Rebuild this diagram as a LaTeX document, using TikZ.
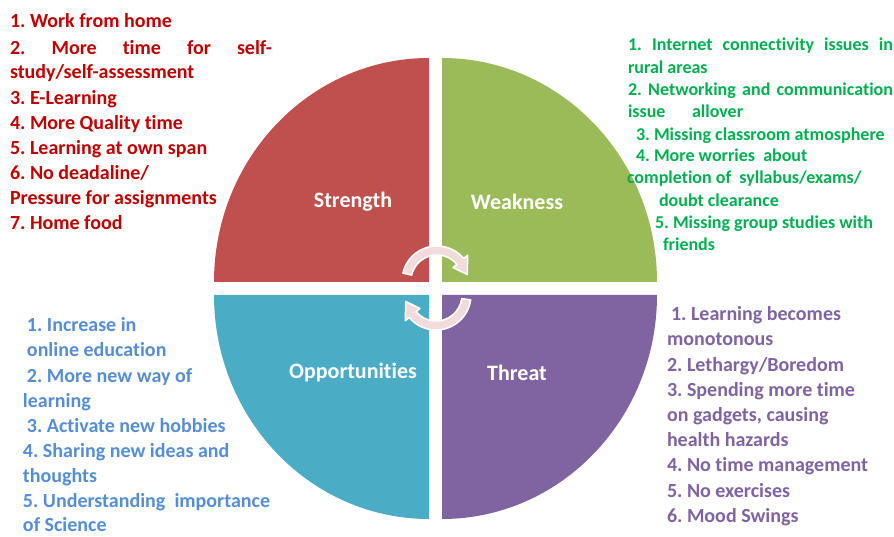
\documentclass[tikz,border=0pt]{standalone}
\usepackage{fontspec}
\setmainfont[RawFeature={-liga,-calt,-dlig,-clig}]{Carlito}
\usetikzlibrary{calc}
\definecolor{qred}{HTML}{C0504D}
\definecolor{qgreen}{HTML}{9BBB59}
\definecolor{qblue}{HTML}{4BACC6}
\definecolor{qpurple}{HTML}{8064A2}
\definecolor{tred}{HTML}{C00000}
\definecolor{tgreen}{HTML}{00B050}
\definecolor{tblue}{HTML}{558ED5}
\definecolor{tpurple}{HTML}{8064A2}
\definecolor{arrowpink}{HTML}{F2DCDB}
\frenchspacing
\begin{document}
\begin{tikzpicture}[x=1pt,y=1pt,
  every node/.style={inner sep=0pt, outer sep=0pt},
  redtxt/.style={anchor=base west, text=tred, font=\fontsize{20}{24}\selectfont\bfseries},
  greentxt/.style={anchor=base west, text=tgreen, font=\fontsize{18}{21}\selectfont\bfseries},
  bluetxt/.style={anchor=base west, text=tblue, font=\fontsize{20}{24}\selectfont\bfseries},
  purpletxt/.style={anchor=base west, text=tpurple, font=\fontsize{20}{24}\selectfont\bfseries},
  qlabel/.style={anchor=center, text=white, font=\fontsize{22}{26}\selectfont\bfseries},
  cyclearrow/.style={fill=arrowpink, draw=white, line width=1.5pt, line join=round}]
\fill[white] (0,0) rectangle (894,536);
\useasboundingbox (0,0) rectangle (894,536);
% quadrants
\fill[qred] (429,254) -- (214,254) arc[start angle=180, end angle=90, x radius=215pt, y radius=224pt] -- cycle;
\fill[qgreen] (442,254) -- (442,478) arc[start angle=90, end angle=0, x radius=215pt, y radius=224pt] -- cycle;
\fill[qblue] (429,241) -- (429,17) arc[start angle=270, end angle=180, x radius=215pt, y radius=224pt] -- cycle;
\fill[qpurple] (442,241) -- (657,241) arc[start angle=0, end angle=-90, x radius=215pt, y radius=224pt] -- cycle;
% cycle arrows
\coordinate (ca) at (437,255);
\coordinate (cb) at (436,241);
\filldraw[cyclearrow] ($(ca)+(167:35pt)$) arc[start angle=167, end angle=40, radius=35pt]
  -- ($(ca)+(40:40pt)$) -- ($(ca)+(12:31pt)$) -- ($(ca)+(40:21pt)$) -- ($(ca)+(40:26pt)$)
  arc[start angle=40, end angle=167, radius=26pt] -- cycle;
\filldraw[cyclearrow] ($(cb)+(-8:35pt)$) arc[start angle=-8, end angle=-140, radius=35pt]
  -- ($(cb)+(-140:40pt)$) -- ($(cb)+(-168:31pt)$) -- ($(cb)+(-140:21pt)$) -- ($(cb)+(-140:26pt)$)
  arc[start angle=-140, end angle=-8, radius=26pt] -- cycle;
% quadrant labels
\node[qlabel] (ls) at (353,334) {Strength};
\node[qlabel] (lw) at (517,334) {Weakness};
\node[qlabel] (lo) at (353,163) {Opportunities};
\node[qlabel] (lt) at (517,163) {Threat};
% strengths
\node[redtxt] (r1) at (10,508) {1. Work from home};
\node[redtxt] (r2) at (10,481.5) {\makebox[262pt][s]{2. More time for self-}};
\node[redtxt] (r3) at (10,457.5) {study/self-assessment};
\node[redtxt] (r4) at (10,431) {3. E-Learning};
\node[redtxt] (r5) at (10,406) {4. More Quality time};
\node[redtxt] (r6) at (10,381) {5. Learning at own span};
\node[redtxt] (r7) at (10,356) {6. No deadaline/};
\node[redtxt] (r8) at (10,331) {Pressure for assignments};
\node[redtxt] (r9) at (10,306) {7. Home food};
% weaknesses
\node[greentxt] (g1) at (628,485.3) {\makebox[265pt][s]{1. Internet connectivity issues in}};
\node[greentxt] (g2) at (628,462) {rural areas};
\node[greentxt] (g3) at (628,440.3) {\makebox[265pt][s]{2. Networking and communication}};
\node[greentxt] (g4) at (628,418) {\makebox[64pt][l]{issue}allover};
\node[greentxt] (g5) at (636,395.3) {3. Missing classroom atmosphere};
\node[greentxt] (g6) at (636,374) {4. More worries\ \ about};
\node[greentxt] (g7) at (627,352) {completion of\ \ syllabus/exams/};
\node[greentxt] (g8) at (659,329.3) {doubt clearance};
\node[greentxt] (g9) at (655,307) {5. Missing group studies with};
\node[greentxt] (g10) at (663,285.3) {friends};
% opportunities
\node[bluetxt] (b1) at (27,204.3) {1. Increase in};
\node[bluetxt] (b2) at (27,179) {online education};
\node[bluetxt] (b3) at (27,154) {2. More new way of};
\node[bluetxt] (b4) at (23,129) {learning};
\node[bluetxt] (b5) at (27,104) {3. Activate new hobbies};
\node[bluetxt] (b6) at (23,78.5) {4. Sharing new ideas and};
\node[bluetxt] (b7) at (23,53.5) {thoughts};
\node[bluetxt] (b8) at (23,29) {5. Understanding\ \ importance};
\node[bluetxt] (b9) at (23,5) {of Science};
% threats
\node[purpletxt] (p1) at (671,215.3) {1. Learning becomes};
\node[purpletxt] (p2) at (667,190.1) {monotonous};
\node[purpletxt] (p3) at (667,164.9) {2. Lethargy/Boredom};
\node[purpletxt] (p4) at (667,139.7) {3. Spending more time};
\node[purpletxt] (p5) at (667,114.5) {on gadgets, causing};
\node[purpletxt] (p6) at (667,89.3) {health hazards};
\node[purpletxt] (p7) at (667,64.1) {4. No time management};
\node[purpletxt] (p8) at (667,38.9) {5. No exercises};
\node[purpletxt] (p9) at (667,13.7) {6. Mood Swings};
\end{tikzpicture}
\end{document}
